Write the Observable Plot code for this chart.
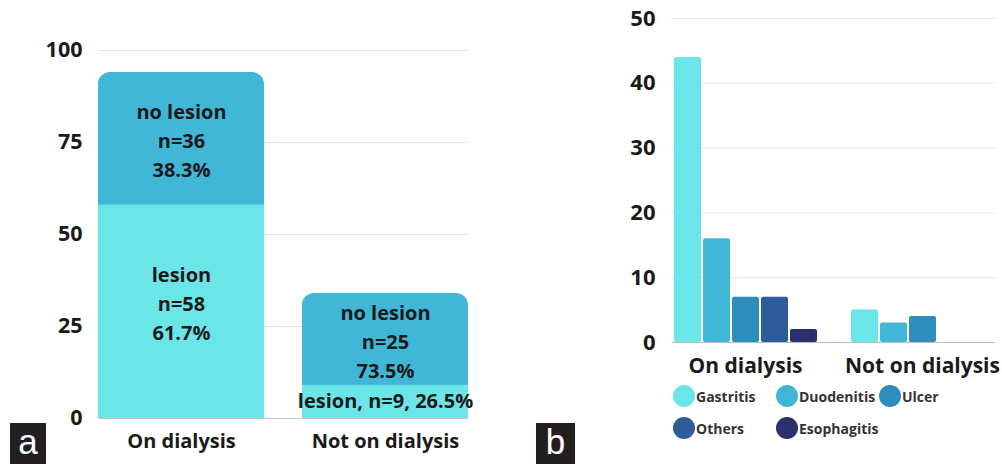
<!DOCTYPE html>
<html>
<head>
<meta charset="utf-8">
<script src="https://cdn.jsdelivr.net/npm/d3@7"></script>
<script src="https://cdn.jsdelivr.net/npm/@observablehq/plot@0.6"></script>
<style>
  html, body { margin: 0; padding: 0; background: #ffffff; }
  #wrap { position: relative; width: 1002px; height: 464px; overflow: hidden; font-family: "Open Sans", sans-serif; }
  #left { position: absolute; left: 0; top: 0; }
  #rightBack, #rightFront { position: absolute; left: 530px; top: 0; }
  .tag { position: absolute; background: #231f20; color: #ffffff; font-family: "Liberation Sans", Arial, sans-serif;
         font-size: 35px; line-height: 38px; text-align: center; }
  #legend { position: absolute; left: 673px; top: 385px; display: grid; grid-template-columns: 103px 103px 103px;
            row-gap: 10px; }
  .item { display: flex; align-items: center; height: 22px; }
  .dot { width: 22px; height: 22px; border-radius: 50%; flex: none; }
  .lab { font-family: "Open Sans", sans-serif; font-weight: 700; font-size: 14px; color: #333333; margin-left: 1px; white-space: nowrap; }
  #left g[aria-label^="y-axis"] { font-size: 21.5px; }
  #rightBack g[aria-label^="y-axis"] { font-size: 22px; }
</style>
</head>
<body>
<div id="wrap">
  <div id="left"></div>
  <div id="rightBack"></div>
  <div id="rightFront"></div>
  <div id="legend"></div>
  <div class="tag" style="left:10px; top:423px; width:36px; height:41px;">a</div>
  <div class="tag" style="left:536px; top:423px; width:39px; height:41px;">b</div>
</div>
<script>
// ---- Panel a data ----
const groups = ["On dialysis", "Not on dialysis"];
const lesionN = [58, 9];
const noLesionN = [36, 25];
const lesionPct = ["61.7%", "26.5%"];
const noLesionPct = ["38.3%", "73.5%"];
const leftTicks = [0, 25, 50, 75, 100];

// ---- Panel b data ----
const types = ["Gastritis", "Duodenitis", "Ulcer", "Others", "Esophagitis"];
const onDialysis = [44, 16, 7, 7, 2];
const notOnDialysis = [5, 3, 4, 0, 0];
const rightTicks = [0, 10, 20, 30, 40, 50];

// ---- Colours ----
const lesionColor = "#6ce5e8";
const noLesionColor = "#41b7d7";
const typeColors = ["#6ce5e8", "#41b7d7", "#2e8dbd", "#2e5c9b", "#2b306f"];

const baseStyle = { fontFamily: "'Open Sans', sans-serif", fontSize: "20px", fontWeight: 700, color: "#1a1a1a", background: "transparent" };

// ---- Panel a ----
const rowsA = groups.map((g, i) => ({
  group: g,
  lesion: lesionN[i],
  noLesion: noLesionN[i],
  total: lesionN[i] + noLesionN[i],
  noLesionLabel: `no lesion\nn=${noLesionN[i]}\n${noLesionPct[i]}`,
  lesionLabel: i === 0 ? `lesion\nn=${lesionN[i]}\n${lesionPct[i]}` : `lesion, n=${lesionN[i]}, ${lesionPct[i]}`,
  multi: i === 0
}));

const left = Plot.plot({
  width: 500,
  height: 464,
  marginTop: 50,
  marginBottom: 46,
  marginLeft: 98,
  marginRight: 32,
  style: baseStyle,
  x: { domain: groups, paddingInner: 0.187, paddingOuter: 0, label: null, tickSize: 0, tickPadding: 15 },
  y: { domain: [0, 100], ticks: leftTicks, tickSize: 0, tickPadding: 16, label: null },
  marks: [
    Plot.ruleY(leftTicks.filter(t => t > 0), { stroke: "#e4e4e4", strokeWidth: 1 }),
    Plot.ruleY([0], { stroke: "#c4c4c4", strokeWidth: 1.2 }),
    Plot.barY(rowsA, { x: "group", y1: 0, y2: "total", fill: noLesionColor, rx: 12 }),
    Plot.barY(rowsA, { x: "group", y1: 0, y2: "lesion", fill: lesionColor }),
    Plot.text(rowsA, { x: "group", y: d => d.lesion + d.noLesion / 2, text: "noLesionLabel",
      fontSize: 20, fontWeight: 700, fill: "#1a1a1a", lineHeight: 1.45 }),
    Plot.text(rowsA.filter(d => d.multi), { x: "group", y: d => d.lesion / 2, dy: -10, text: "lesionLabel",
      fontSize: 20, fontWeight: 700, fill: "#1a1a1a", lineHeight: 1.45 }),
    Plot.text(rowsA.filter(d => !d.multi), { x: "group", y: d => d.lesion / 2, text: "lesionLabel",
      fontSize: 20, fontWeight: 700, fill: "#1a1a1a" })
  ]
});
document.getElementById("left").appendChild(left);

// ---- Panel b ----
const rowsB = [];
groups.forEach((g, gi) => {
  const vals = gi === 0 ? onDialysis : notOnDialysis;
  types.forEach((t, ti) => rowsB.push({ group: g, type: t, value: vals[ti] }));
});

const frameB = { width: 472, height: 385, marginTop: 18, marginBottom: 43, marginLeft: 142, marginRight: 7 };

// background: y axis and continuous gridlines across both groups
const rightBack = Plot.plot({
  ...frameB,
  style: { ...baseStyle, background: "#ffffff" },
  x: { domain: groups, axis: null },
  y: { domain: [0, 50], ticks: rightTicks, tickSize: 0, tickPadding: 17, label: null },
  marks: [
    Plot.ruleY(rightTicks.filter(t => t > 0), { stroke: "#e6e6e6", strokeWidth: 1 }),
    Plot.ruleY([0], { stroke: "#bdbdbd", strokeWidth: 1.2 })
  ]
});
document.getElementById("rightBack").appendChild(rightBack);

// foreground: grouped bars and group labels
const rightFront = Plot.plot({
  ...frameB,
  style: { ...baseStyle, fontSize: "21px", background: "transparent" },
  fx: { domain: groups, paddingInner: 0.184, paddingOuter: 0, axis: "bottom", label: null, tickSize: 0, tickPadding: 16 },
  x: { domain: types, paddingInner: 0.07, paddingOuter: 0, axis: null },
  y: { domain: [0, 50], axis: null },
  color: { domain: types, range: typeColors },
  marks: [
    Plot.barY(rowsB, { fx: "group", x: "type", y: "value", fill: "type", rx: 2 })
  ]
});
document.getElementById("rightFront").appendChild(rightFront);

// ---- Legend ----
const legend = document.getElementById("legend");
types.forEach((t, i) => {
  const item = document.createElement("div");
  item.className = "item";
  const dot = document.createElement("span");
  dot.className = "dot";
  dot.style.background = typeColors[i];
  const lab = document.createElement("span");
  lab.className = "lab";
  lab.textContent = t;
  item.appendChild(dot);
  item.appendChild(lab);
  legend.appendChild(item);
});
</script>
</body>
</html>
